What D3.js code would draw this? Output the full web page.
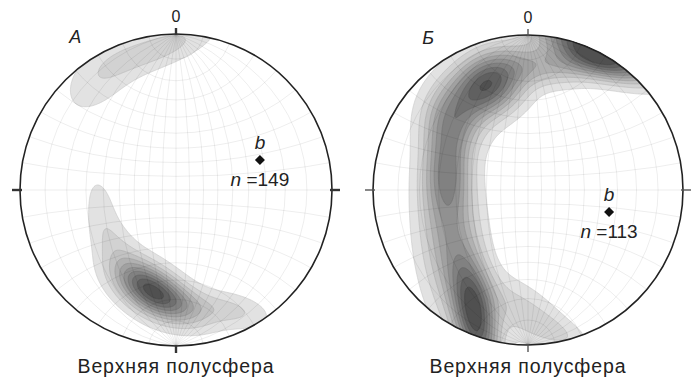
<!DOCTYPE html>
<html><head><meta charset="utf-8">
<script src="https://cdn.jsdelivr.net/npm/d3@7"></script>
<style>
body{margin:0;background:#fff}
svg{display:block}
text{font-family:"Liberation Sans",Arial,Helvetica,sans-serif;fill:#222}
</style>
</head><body>
<svg id="chart" width="693" height="380"></svg>
<script>
// Panel titles, pole counts and the fold axis b (net coords: x east, y north, primitive radius 1)
const panelLabels = ["А", "Б"];
const poleCounts = [149, 113];
const bAxis = [[0.538, 0.192], [0.523, -0.142]];
const hemisphereLabel = "Верхняя полусфера";
const northLabel = "0";

// Pole-density modes: [x, y, sigma along axis, sigma across axis, axis angle (deg), weight]
const densityA = [
  [-0.18, -0.63, 0.17, 0.095, -35, 0.80],
  [ 0.02, -0.73, 0.16, 0.085, -25, 0.30],
  [ 0.35, -0.77, 0.17, 0.075, -12, 0.18],
  [-0.48, -0.12, 0.18, 0.075, 100, 0.10],
  [-0.38, -0.36, 0.14, 0.085, 125, 0.12],
  [-0.48,  0.72, 0.22, 0.12,  45, 0.12],
  [-0.10,  0.91, 0.25, 0.08,  20, 0.20]
];
const densityB = [
  [-0.26,  0.68, 0.17, 0.13,  30, 0.85],
  [ 0.40,  0.93, 0.25, 0.09, -23, 0.90],
  [-0.34, -0.83, 0.25, 0.09, 100, 0.85],
  [-0.52,  0.14, 0.20, 0.10,  90, 0.45],
  [-0.50, -0.30, 0.35, 0.13,  95, 0.45],
  [-0.48,  0.45, 0.15, 0.13,  90, 0.40],
  [ 0.46,  0.81, 0.30, 0.07, -10, 0.30],
  [ 0.10,  0.78, 0.20, 0.08,  -5, 0.25],
  [-0.05, -0.78, 0.24, 0.11, -35, 0.20],
  [ 0.20, -0.92, 0.16, 0.06, -25, 0.10]
];
// Contour thresholds (relative density)
const contourLevels = [0.07, 0.16, 0.25, 0.34, 0.43, 0.52, 0.61, 0.70, 0.79, 0.88];

// Net grid spacing (degrees)
const gridStep = 10;

const panels = [
  {cx: 176, cy: 190, r: 156, modes: densityA},
  {cx: 528, cy: 190, r: 155, modes: densityB}
];

const svg = d3.select("#chart");
const fillScale = d3.scaleLinear()
  .domain([0, contourLevels.length - 1])
  .range(["#e2e2e2", "#505050"])
  .interpolate(d3.interpolateRgb);

function densityAt(modes, x, y) {
  let v = 0;
  for (const [mx, my, sa, sb, ang, w] of modes) {
    const a = ang * Math.PI / 180;
    const dx = x - mx, dy = y - my;
    const u = dx * Math.cos(a) + dy * Math.sin(a);
    const t = -dx * Math.sin(a) + dy * Math.cos(a);
    v += w * Math.exp(-0.5 * (u * u / (sa * sa) + t * t / (sb * sb)));
  }
  return v;
}

panels.forEach((p, i) => {
  const g = svg.append("g");
  const sx = d3.scaleLinear().domain([-1, 1]).range([p.cx - p.r, p.cx + p.r]);
  const sy = d3.scaleLinear().domain([-1, 1]).range([p.cy + p.r, p.cy - p.r]);

  const clipId = "clip" + i;
  svg.append("clipPath").attr("id", clipId)
    .append("circle").attr("cx", sx(0)).attr("cy", sy(0)).attr("r", sx(1) - sx(0));

  // density grid over the net
  const n = 240, ext = 1.2, step = 2 * ext / n;
  const values = new Float64Array(n * n);
  for (let j = 0; j < n; j++) {
    const y = ext - (j + 0.5) * step;
    for (let k = 0; k < n; k++) {
      const x = -ext + (k + 0.5) * step;
      values[j * n + k] = densityAt(p.modes, x, y);
    }
  }
  const contours = d3.contours().size([n, n]).thresholds(contourLevels)(values);
  const proj = d3.geoTransform({
    point(gx, gy) {
      this.stream.point(sx(-ext + gx * step), sy(ext - gy * step));
    }
  });
  const path = d3.geoPath(proj);

  const body = g.append("g").attr("clip-path", `url(#${clipId})`);
  body.selectAll("path.level")
    .data(contours)
    .join("path")
    .attr("class", "level")
    .attr("d", path)
    .attr("fill", (d, k) => fillScale(k))
    .attr("stroke", (d, k) => d3.color(fillScale(k)).darker(0.35))
    .attr("stroke-width", 0.6);

  // Wulff net: great circles through N and S, small circles about the N-S axis
  const grid = body.append("g").attr("fill", "none")
    .attr("stroke", "#000").attr("stroke-opacity", 0.07).attr("stroke-width", 1);
  const unit = sx(1) - sx(0);
  for (let d = gridStep; d < 180; d += gridStep) {
    if (d === 90) continue;
    const rr = Math.tan((d / 2) * Math.PI / 180);
    const xc = (rr * rr - 1) / (2 * rr);
    const rad = Math.sqrt(1 + xc * xc);
    grid.append("circle").attr("cx", sx(xc)).attr("cy", sy(0)).attr("r", rad * unit);
  }
  for (let a = gridStep; a < 90; a += gridStep) {
    const ar = a * Math.PI / 180;
    [-1, 1].forEach(s => {
      grid.append("circle").attr("cx", sx(0)).attr("cy", sy(s / Math.cos(ar))).attr("r", Math.tan(ar) * unit);
    });
  }
  grid.append("line").attr("x1", sx(0)).attr("x2", sx(0)).attr("y1", sy(-1)).attr("y2", sy(1));
  grid.append("line").attr("x1", sx(-1)).attr("x2", sx(1)).attr("y1", sy(0)).attr("y2", sy(0));

  // primitive circle
  g.append("circle").attr("cx", sx(0)).attr("cy", sy(0)).attr("r", unit)
    .attr("fill", "none").attr("stroke", "#222").attr("stroke-width", 1.6);

  // cardinal ticks
  const tw = i === 0 ? 2.4 : 1.4;
  const tickCol = i === 0 ? "#333" : "#555";
  g.append("line").attr("x1", sx(0)).attr("x2", sx(0)).attr("y1", sy(1) - 6).attr("y2", sy(1) + 1)
    .attr("stroke", tickCol).attr("stroke-width", tw);
  g.append("line").attr("x1", sx(0)).attr("x2", sx(0)).attr("y1", sy(-1) - 1).attr("y2", sy(-1) + 7)
    .attr("stroke", tickCol).attr("stroke-width", tw);
  g.append("line").attr("x1", sx(-1) - 8).attr("x2", sx(-1) + 2).attr("y1", sy(0)).attr("y2", sy(0))
    .attr("stroke", tickCol).attr("stroke-width", tw);
  g.append("line").attr("x1", sx(1) - 2).attr("x2", sx(1) + 8).attr("y1", sy(0)).attr("y2", sy(0))
    .attr("stroke", tickCol).attr("stroke-width", tw);

  g.append("text").attr("x", sx(0)).attr("y", sy(1) - 12).attr("text-anchor", "middle")
    .attr("font-size", 16).text(northLabel);
  g.append("text").attr("x", sx(-0.645)).attr("y", sy(0.94)).attr("text-anchor", "middle")
    .attr("font-size", 18).attr("font-style", "italic").text(panelLabels[i]);

  // fold axis b
  const bx = sx(bAxis[i][0]), by = sy(bAxis[i][1]);
  g.append("path").attr("d", d3.symbol().type(d3.symbolSquare).size(50)())
    .attr("transform", `translate(${bx},${by}) rotate(45)`).attr("fill", "#111");
  g.append("text").attr("x", bx).attr("y", by - 11).attr("text-anchor", "middle")
    .attr("font-size", 19).attr("font-style", "italic").text("b");
  const nt = g.append("text").attr("x", bx).attr("y", by + 26).attr("text-anchor", "middle").attr("font-size", 19);
  nt.append("tspan").attr("font-style", "italic").text("n");
  nt.append("tspan").text(" =" + poleCounts[i]);

  g.append("text").attr("x", sx(0)).attr("y", 373).attr("text-anchor", "middle")
    .attr("font-size", 19.5).attr("letter-spacing", 0.9).text(hemisphereLabel);
});
</script>
</body></html>
